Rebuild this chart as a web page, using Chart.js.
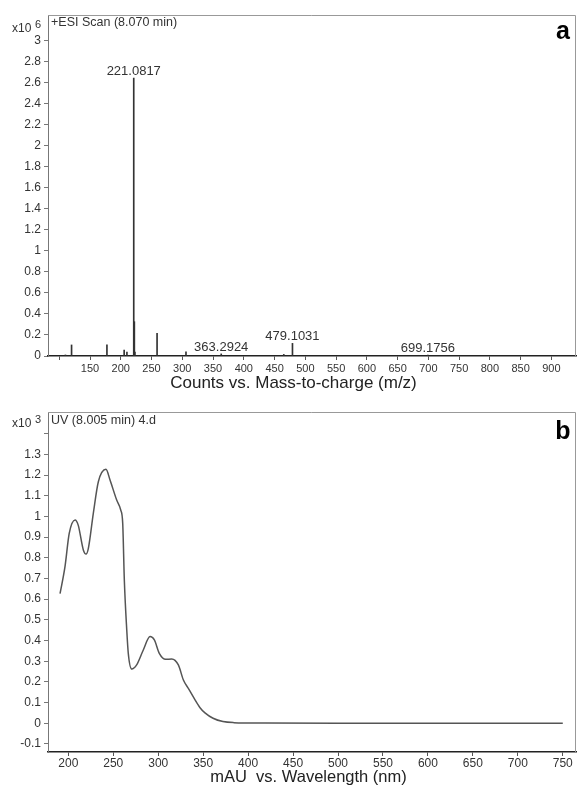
<!DOCTYPE html>
<html>
<head>
<meta charset="utf-8">
<script src="https://cdn.jsdelivr.net/npm/chart.js@4.4.1/dist/chart.umd.min.js"></script>
<style>
  body { margin: 0; background: #fff; }
  .panel { position: absolute; left: 0; width: 579px; }
  #panelA { top: 0; height: 395px; }
  #panelB { top: 395px; height: 396px; }
</style>
</head>
<body>
<div class="panel" id="panelA"><canvas id="msChart"></canvas></div>
<div class="panel" id="panelB"><canvas id="uvChart"></canvas></div>
<script>
// panel a: ESI mass spectrum (intensity x10^6)
const msMz = [110, 120, 177.5, 205.5, 210, 221.0817, 222.08, 223, 259, 306, 363.2924, 465, 479.1031, 699.1756];
const msIntensity = [0.01, 0.105, 0.105, 0.057, 0.037, 2.64, 0.326, 0.037, 0.215, 0.04, 0.02, 0.015, 0.12, 0.008];
const msLabelMz = [221.0817, 363.2924, 479.1031, 699.1756];
const msXTicks = [100, 150, 200, 250, 300, 350, 400, 450, 500, 550, 600, 650, 700, 750, 800, 850, 900];
const msYTicks = [0, 0.2, 0.4, 0.6, 0.8, 1, 1.2, 1.4, 1.6, 1.8, 2, 2.2, 2.4, 2.6, 2.8, 3];

// panel b: UV spectrum (mAU x10^3)
const uvWavelength = [190.8, 196.3, 201, 207.5, 211, 216.7, 219.7, 222.3, 227.8, 233.4, 241.9, 246.4, 253.8, 258.3, 260.5, 262.3, 265, 266.7, 270.5, 276, 283.4, 290.9, 295.7, 301.2, 308.3, 315, 322.4, 328, 334, 340, 346.5, 352, 361, 372, 384, 419, 500, 600, 750];
const uvAbsorbance = [0.627, 0.757, 0.918, 0.983, 0.958, 0.838, 0.818, 0.846, 1.015, 1.168, 1.228, 1.176, 1.079, 1.031, 0.967, 0.693, 0.451, 0.338, 0.262, 0.282, 0.354, 0.419, 0.403, 0.338, 0.309, 0.311, 0.282, 0.209, 0.165, 0.12, 0.075, 0.05, 0.024, 0.008, 0.003, 0.001, 0, 0, 0];
const uvXTicks = [200, 250, 300, 350, 400, 450, 500, 550, 600, 650, 700, 750];
const uvYTicks = [-0.1, 0, 0.1, 0.2, 0.3, 0.4, 0.5, 0.6, 0.7, 0.8, 0.9, 1, 1.1, 1.2, 1.3, 1.4];

const FONT = '"Liberation Sans", Arial, sans-serif';

// frame, exponent, header, axis title and panel letter
const panelDecor = {
  id: 'panelDecor',
  afterDraw(chart, args, opts) {
    const { ctx, chartArea: a } = chart;
    ctx.save();
    ctx.strokeStyle = '#999';
    ctx.lineWidth = 1;
    ctx.beginPath();
    ctx.moveTo(a.left, a.top + 0.5);
    ctx.lineTo(a.right - 0.5, a.top + 0.5);
    ctx.lineTo(a.right - 0.5, a.bottom);
    ctx.stroke();

    ctx.fillStyle = '#333';
    ctx.textBaseline = 'middle';
    ctx.textAlign = 'left';
    ctx.font = '12px ' + FONT;
    ctx.fillText('x10', 12, opts.expY);
    ctx.font = '11px ' + FONT;
    ctx.fillText(opts.exponent, 35, opts.expY - 4);
    ctx.font = '12.5px ' + FONT;
    ctx.fillText(opts.header, a.left + 3, opts.headerY);

    ctx.fillStyle = '#222';
    ctx.textAlign = 'center';
    ctx.font = opts.titleSize + 'px ' + FONT;
    ctx.fillText(opts.title, opts.titleX, opts.titleY);

    ctx.fillStyle = '#000';
    ctx.font = 'bold 25px ' + FONT;
    ctx.textBaseline = 'alphabetic';
    ctx.fillText(opts.letter, 563, opts.letterY);
    ctx.restore();
  }
};

// m/z labels above the annotated peaks
const peakLabels = {
  id: 'peakLabels',
  afterDatasetsDraw(chart) {
    const { ctx, scales } = chart;
    ctx.save();
    ctx.fillStyle = '#333';
    ctx.font = '13px ' + FONT;
    ctx.textAlign = 'center';
    ctx.textBaseline = 'alphabetic';
    msLabelMz.forEach(mz => {
      const i = msMz.indexOf(mz);
      const x = scales.x.getPixelForValue(mz);
      const y = scales.y.getPixelForValue(msIntensity[i]);
      ctx.fillText(mz.toFixed(4), x, y - 3);
    });
    ctx.restore();
  }
};

function fmt(v) { return String(Number(v.toFixed(1))); }

function axes(xMin, xMax, xTicks, xHide, xFont, xPad, yMin, yMax, yTicks, yHide) {
  return {
    x: {
      type: 'linear', min: xMin, max: xMax, offset: false,
      afterBuildTicks: s => { s.ticks = xTicks.map(v => ({ value: v })); },
      afterFit: s => { s.height = 39; },
      ticks: { font: { family: FONT, size: xFont }, color: '#333', padding: xPad, maxRotation: 0, autoSkip: false,
               callback: v => (v === xHide ? '' : String(v)) },
      grid: { display: true, drawOnChartArea: false, drawTicks: true, tickLength: 4, color: '#555', offset: false },
      border: { display: true, color: '#222', width: 1.5 }
    },
    y: {
      type: 'linear', min: yMin, max: yMax,
      afterBuildTicks: s => { s.ticks = yTicks.map(v => ({ value: v })); },
      afterFit: s => { s.width = 48; },
      ticks: { font: { family: FONT, size: 12 }, color: '#333', padding: 3, autoSkip: false,
               callback: v => (Math.abs(v - yHide) < 1e-6 ? '' : fmt(v)) },
      grid: { display: true, drawOnChartArea: false, drawTicks: true, tickLength: 4, color: '#777' },
      border: { display: true, color: '#777', width: 1 }
    }
  };
}

new Chart(document.getElementById('msChart'), {
  type: 'bar',
  data: {
    datasets: [{
      data: msMz.map((m, i) => ({ x: m, y: msIntensity[i] })),
      backgroundColor: '#333',
      barThickness: 1,
      grouped: false
    }]
  },
  options: {
    responsive: true,
    maintainAspectRatio: false,
    animation: false,
    layout: { padding: { top: 15, right: 3, left: 0, bottom: 0 } },
    plugins: {
      legend: { display: false },
      tooltip: { enabled: false },
      panelDecor: { exponent: '6', expY: 29, header: '+ESI Scan (8.070 min)', headerY: 23, letter: 'a', letterY: 39,
                    title: 'Counts vs. Mass-to-charge (m/z)', titleSize: 17, titleX: 293.5, titleY: 383 }
    },
    scales: axes(81.7, 940, msXTicks, 100, 11, 2, 0, 3.24, msYTicks, 99)
  },
  plugins: [panelDecor, peakLabels]
});

new Chart(document.getElementById('uvChart'), {
  type: 'line',
  data: {
    datasets: [{
      data: uvWavelength.map((w, i) => ({ x: w, y: uvAbsorbance[i] })),
      borderColor: '#555',
      borderWidth: 1.5,
      pointRadius: 0,
      fill: false,
      cubicInterpolationMode: 'monotone'
    }]
  },
  options: {
    responsive: true,
    maintainAspectRatio: false,
    animation: false,
    layout: { padding: { top: 17, right: 3, left: 0, bottom: 0 } },
    plugins: {
      legend: { display: false },
      tooltip: { enabled: false },
      panelDecor: { exponent: '3', expY: 29, header: 'UV (8.005 min) 4.d', headerY: 26, letter: 'b', letterY: 44,
                    title: 'mAU  vs. Wavelength (nm)', titleSize: 16.5, titleX: 308.5, titleY: 382 }
    },
    scales: axes(177.4, 764.7, uvXTicks, null, 12, 0, -0.139, 1.505, uvYTicks, 1.4)
  },
  plugins: [panelDecor]
});
</script>
</body>
</html>
